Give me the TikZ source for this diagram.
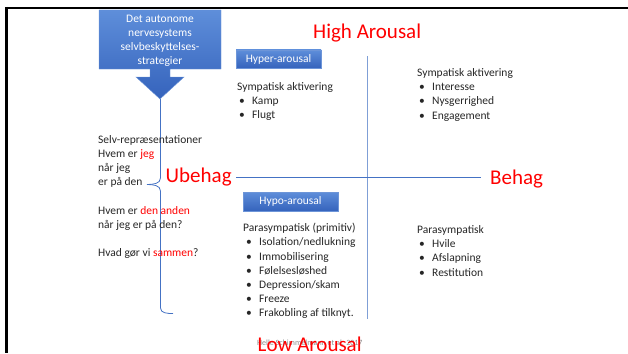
\documentclass[tikz,border=0pt]{standalone}
\usepackage{fontspec}
\setmainfont{Carlito}
\usetikzlibrary{positioning}
\definecolor{axisblue}{HTML}{4472C4}
\definecolor{axislight}{HTML}{7F9FD6}
\definecolor{boxtop}{HTML}{5E8EDA}
\definecolor{boxbot}{HTML}{3563BC}
\definecolor{boxedge}{HTML}{6D95D8}
\definecolor{txt}{HTML}{262626}
\definecolor{hot}{HTML}{FF0000}
\newcommand{\mybul}[1]{\makebox[13pt][l]{\textbullet}#1}
\newcommand{\hot}[1]{\textcolor{hot}{#1}}
\tikzset{
  body/.style={font=\fontsize{11.5}{14}\selectfont, anchor=base west, inner sep=0pt, text=txt},
  big/.style={font=\fontsize{21}{24}\selectfont, anchor=base west, inner sep=0pt, text=hot},
  tagbox/.style={shading=axis, top color=boxtop, bottom color=boxbot, draw=boxedge, line width=0.4pt},
  tagtext/.style={font=\fontsize{11.5}{14}\selectfont, text=white, inner sep=0pt},
  axis/.style={draw=axisblue, line width=0.8pt},
  frame/.style={draw=black, line width=2.2pt}
}
\begin{document}
\begin{tikzpicture}[x=1pt,y=-1pt]
\useasboundingbox (0,0) rectangle (628,353);
% frame
\draw[frame] (5,8) -- (628,8);
\draw[frame] (6.5,7) -- (6.5,353);

% callout arrow
\path[tagbox] (99,10) -- (221,10) -- (221,69) -- (170,69) -- (170,77) -- (184,77)
  -- (160,99) -- (136,77) -- (150,77) -- (150,69) -- (99,69) -- cycle;
\node[tagtext, align=center, font=\fontsize{11.5}{14}\selectfont] (callout) at (160,40.5)
  {Det autonome\\nervesystems\\selvbeskyttelses-\\strategier};
\coordinate (tip) at (160.5,99);

% brace
\coordinate (bmid) at (147,184.5);
\coordinate (bend) at (173,313.5);
\draw[axis] (tip) -- (160.5,178) to[out=90+180,in=0] (bmid);
\draw[axis] (bmid) to[out=0,in=90] (160.5,191) -- (160.5,308) to[out=-90,in=180] (bend);

% axes
\coordinate (vtop) at (367,56);
\coordinate (vbot) at (367,319);
\coordinate (hleft) at (236,177);
\coordinate (hright) at (481,177);
\draw[draw=axislight, line width=0.8pt] (vtop) -- (vbot);
\draw[axis] (hleft) -- (hright);

% axis labels
\node[big] (high) at (313,39) {High Arousal};
\node[big] (ubehag) at (165.5,182.5) {Ubehag};
\node[big] (behag) at (490,184) {Behag};
\node[font=\fontsize{8}{9}\selectfont, text=black!45, anchor=base west, inner sep=0pt] (footer) at (257,345) {Helle Schimmelmann et al. 2017};
\node[big] (low) at (257.5,351) {Low Arousal};

% tag boxes
\path[tagbox] (236,50) rectangle (321,68);
\node[tagtext] (hyper) at (278.5,59) {Hyper-arousal};
\path[tagbox] (243,192) rectangle (338,211);
\node[tagtext] (hypo) at (290.5,201.5) {Hypo-arousal};

% left text
\node[body] (l1) at (98,143) {Selv-repræsentationer};
\node[body] (l2) at (98,157.5) {Hvem er \hot{jeg}};
\node[body] (l3) at (98,171.5) {når jeg};
\node[body] (l4) at (98,185.5) {er på den};
\node[body] (l5) at (98,214.5) {Hvem er \hot{den anden}};
\node[body] (l6) at (98,228.5) {når jeg er på den?};
\node[body] (l7) at (98,256) {Hvad gør vi \hot{sammen}?};

% upper left
\node[body] (ul0) at (237,90) {Sympatisk aktivering};
\node[body] (ul1) at (239,104) {\mybul{Kamp}};
\node[body] (ul2) at (239,118) {\mybul{Flugt}};

% upper right
\node[body] (ur0) at (417,76) {Sympatisk aktivering};
\node[body] (ur1) at (419,90) {\mybul{Interesse}};
\node[body] (ur2) at (419,104) {\mybul{Nysgerrighed}};
\node[body] (ur3) at (419,119) {\mybul{Engagement}};

% lower left
\node[body] (ll0) at (243,231) {Parasympatisk (primitiv)};
\node[body] (ll1) at (246,245.5) {\mybul{Isolation/nedlukning}};
\node[body] (ll2) at (246,260) {\mybul{Immobilisering}};
\node[body] (ll3) at (246,274) {\mybul{Følelsesløshed}};
\node[body] (ll4) at (246,288) {\mybul{Depression/skam}};
\node[body] (ll5) at (246,302) {\mybul{Freeze}};
\node[body] (ll6) at (246,316.5) {\mybul{Frakobling af tilknyt.}};

% lower right
\node[body] (lr0) at (417,233) {Parasympatisk};
\node[body] (lr1) at (419,247) {\mybul{Hvile}};
\node[body] (lr2) at (419,261) {\mybul{Afslapning}};
\node[body] (lr3) at (419,276) {\mybul{Restitution}};
\end{tikzpicture}
\end{document}
